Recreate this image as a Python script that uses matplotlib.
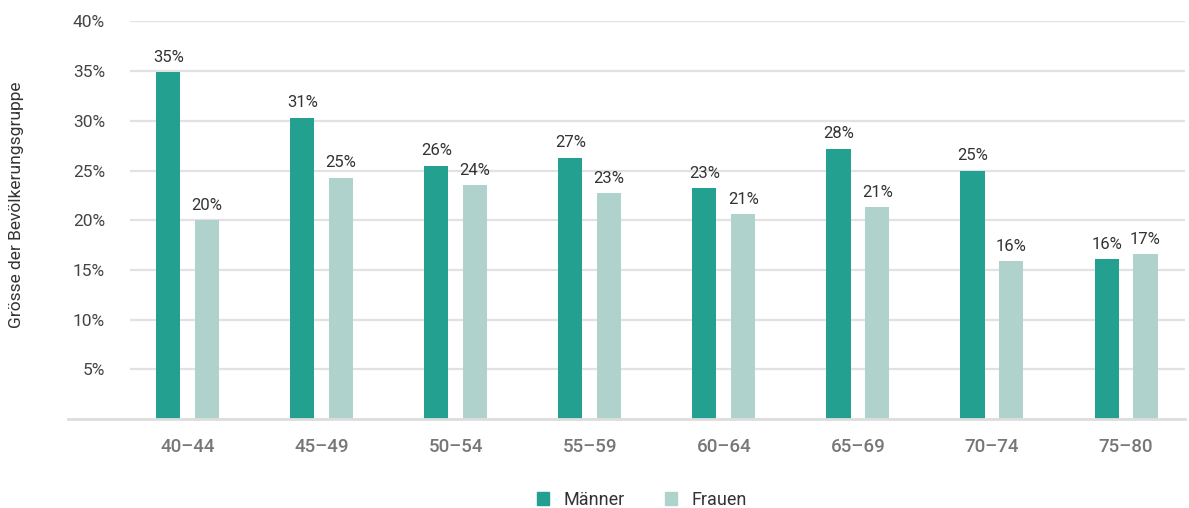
import numpy as np
import matplotlib
matplotlib.use("Agg")
import matplotlib.pyplot as plt
from matplotlib.patches import Patch

# ── data ────────────────────────────────────
age_groups = ["40–44", "45–49", "50–54", "55–59", "60–64", "65–69", "70–74", "75–80"]
maenner = [34.9, 30.3, 25.5, 26.3, 23.2, 27.2, 25.0, 16.1]
frauen  = [20.0, 24.3, 23.5, 22.7, 20.6, 21.3, 15.9, 16.6]
maenner_labels = ["35%", "31%", "26%", "27%", "23%", "28%", "25%", "16%"]
frauen_labels  = ["20%", "25%", "24%", "23%", "21%", "21%", "16%", "17%"]
y_ticks = [5, 10, 15, 20, 25, 30, 35, 40]

C_M = "#23a08f"
C_F = "#afd3cc"
GRID = "#e2e2e2"

plt.rcParams["font.family"] = ["Roboto", "DejaVu Sans"]

W, H = 1189, 508
fig = plt.figure(figsize=(W / 100, H / 100), dpi=100)
left, right, bottom, top = 130, 1185, 419, 21.5
ax = fig.add_axes([left / W, 1 - bottom / H, (right - left) / W, (bottom - top) / H])

x = np.arange(len(age_groups))
bw = 0.18
off = 0.145
ax.bar(x - off, maenner, width=bw, color=C_M, zorder=3)
ax.bar(x + off, frauen, width=bw, color=C_F, zorder=3)

for xi, v, lab in zip(x, maenner, maenner_labels):
    ax.text(xi - off, v + 0.75, lab, ha="center", va="bottom", fontsize=12, color="#333333")
for xi, v, lab in zip(x, frauen, frauen_labels):
    ax.text(xi + off, v + 0.75, lab, ha="center", va="bottom", fontsize=12, color="#333333")

ax.set_xlim(-0.43, 7.44)
ax.set_ylim(0, 40)
ax.set_yticks(y_ticks)
ax.set_yticklabels([f"{t}%" for t in y_ticks])
ax.set_xticks(x)
ax.set_xticklabels(age_groups, fontweight="medium")
ax.tick_params(axis="y", length=0, pad=18, labelsize=12.5, labelcolor="#444444")
ax.tick_params(axis="x", length=0, pad=14, labelsize=13.5, labelcolor="#777777")

ax.grid(axis="y", color=GRID, linewidth=1.6, zorder=0)
for s in ax.spines.values():
    s.set_visible(False)
# baseline reaches further left than the grid
ax.axhline(0, xmin=(68 - left) / (right - left), xmax=1, color="#dddddd",
           linewidth=2, clip_on=False, zorder=4)

fig.text(17 / W, 1 - 205 / H, "Grösse der Bevölkerungsgruppe", rotation=90,
         ha="center", va="center", fontsize=12.5, color="#333333")

handles = [Patch(color=C_M, label="Männer"), Patch(color=C_F, label="Frauen")]
fig.legend(handles=handles, loc="center", bbox_to_anchor=(642 / W, 1 - 500 / H),
           ncol=2, frameon=False, fontsize=13, handlelength=0.7, handleheight=0.7,
           handletextpad=0.8, columnspacing=2.2, labelcolor="#333333")

fig.savefig("out.png", dpi=100)
